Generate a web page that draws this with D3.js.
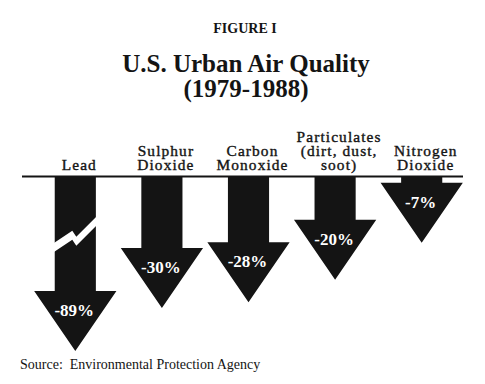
<!DOCTYPE html>
<html>
<head>
<meta charset="utf-8">
<script src="https://cdn.jsdelivr.net/npm/d3@7"></script>
<style>
  html, body { margin: 0; padding: 0; background: #fff; }
  svg { display: block; }
</style>
</head>
<body>
<svg class="chart" width="485" height="384"></svg>
<script>
const figureLabel = 'FIGURE I'
const titleLines = ['U.S. Urban Air Quality', '(1979-1988)']
const sourceNote = 'Source:  Environmental Protection Agency'

const pollutants = ['Lead', 'Sulphur Dioxide', 'Carbon Monoxide', 'Particulates (dirt, dust, soot)', 'Nitrogen Dioxide']
const labelLines = [['Lead'], ['Sulphur', 'Dioxide'], ['Carbon', 'Monoxide'], ['Particulates', '(dirt, dust,', 'soot)'], ['Nitrogen', 'Dioxide']]
const changes = [-89, -30, -28, -20, -7]
// values past this point are drawn on a compressed (broken) scale
const breakValue = -30

const baseY = 176.5
const headH = 60
const ink = '#141414'

const svg = d3.select('.chart')

// titles
svg.append('text')
  .attr('x', 245).attr('y', 33)
  .attr('text-anchor', 'middle')
  .style('font', 'bold 14px "Liberation Serif", serif')
  .attr('fill', ink)
  .text(figureLabel)

svg.selectAll('.title')
  .data(titleLines)
  .enter()
  .append('text')
  .attr('class', 'title')
  .attr('x', 246)
  .attr('y', (d, i) => 72 + i * 25)
  .attr('text-anchor', 'middle')
  .style('font', 'bold 25px "Liberation Serif", serif')
  .attr('fill', ink)
  .text((d) => d)

// scales
const x = d3.scaleBand().domain(pollutants).range([32, 465])
const tipY = d3.scaleLinear().domain([0, breakValue, -89]).range([223, 308, 351])

const headW = x.bandwidth() * 0.95
const shaftW = headW / 2

// zero line
svg.append('line')
  .attr('x1', 22).attr('x2', 463)
  .attr('y1', baseY).attr('y2', baseY)
  .attr('stroke', ink)
  .attr('stroke-width', 2)

const arrowPath = (d, i) => {
  const cx = x(pollutants[i]) + x.bandwidth() / 2
  const tip = tipY(d)
  const top = tip - headH
  const p = d3.path()
  p.moveTo(cx - shaftW / 2, baseY)
  p.lineTo(cx + shaftW / 2, baseY)
  p.lineTo(cx + shaftW / 2, top)
  p.lineTo(cx + headW / 2, top)
  p.lineTo(cx, tip)
  p.lineTo(cx - headW / 2, top)
  p.lineTo(cx - shaftW / 2, top)
  p.closePath()
  return p.toString()
}

const arrows = svg.append('g').attr('class', 'arrows')

arrows.selectAll('path')
  .data(changes)
  .enter()
  .append('path')
  .attr('d', arrowPath)
  .attr('fill', ink)

// lightning-bolt gap on arrows that run past the break
const breakPath = (d, i) => {
  const cx = x(pollutants[i]) + x.bandwidth() / 2
  const mid = (baseY + tipY(d) - headH) / 2
  const top = [[-24, 11], [-3, -3], [1, 3], [24, -20]]
  const gap = 9
  const pts = top.map(([dx, dy]) => [cx + dx, mid + dy])
    .concat(top.slice().reverse().map(([dx, dy]) => [cx + dx, mid + dy + gap]))
  return d3.line()(pts) + 'Z'
}

arrows.selectAll('.gap')
  .data(changes.map((d, i) => ({ d, i })).filter((o) => o.d < breakValue))
  .enter()
  .append('path')
  .attr('class', 'gap')
  .attr('d', (o) => breakPath(o.d, o.i))
  .attr('fill', '#fff')

// percent labels in the heads
arrows.selectAll('.pct')
  .data(changes)
  .enter()
  .append('text')
  .attr('class', 'pct')
  .attr('x', (d, i) => x(pollutants[i]) + x.bandwidth() / 2 - 1)
  .attr('y', (d) => tipY(d) - headH + 25)
  .attr('text-anchor', 'middle')
  .style('font', 'bold 17px "Liberation Serif", serif')
  .attr('fill', '#fff')
  .text((d) => d + '%')

// category labels above the line (widened serif, like the original's schoolbook face)
const lineH = 14
const labels = svg.append('g').attr('class', 'labels')
labelLines.forEach((lines, i) => {
  const cx = x(pollutants[i]) + x.bandwidth() / 2 + 4
  labels.append('text')
    .attr('transform', `translate(${cx}, 0) scale(1.1, 1)`)
    .attr('text-anchor', 'middle')
    .style('font', '14px "Liberation Serif", serif')
    .style('letter-spacing', '1px')
    .attr('fill', ink)
    .attr('stroke', ink)
    .attr('stroke-width', 0.35)
    .selectAll('tspan')
    .data(lines)
    .enter()
    .append('tspan')
    .attr('x', 0)
    .attr('y', (d, j) => 170.5 - (lines.length - 1 - j) * lineH)
    .text((d) => d)
})

// source
svg.append('text')
  .attr('x', 20).attr('y', 369)
  .attr('xml:space', 'preserve')
  .style('white-space', 'pre')
  .style('font', '14px "Liberation Serif", serif')
  .attr('fill', ink)
  .text(sourceNote)
</script>
</body>
</html>
